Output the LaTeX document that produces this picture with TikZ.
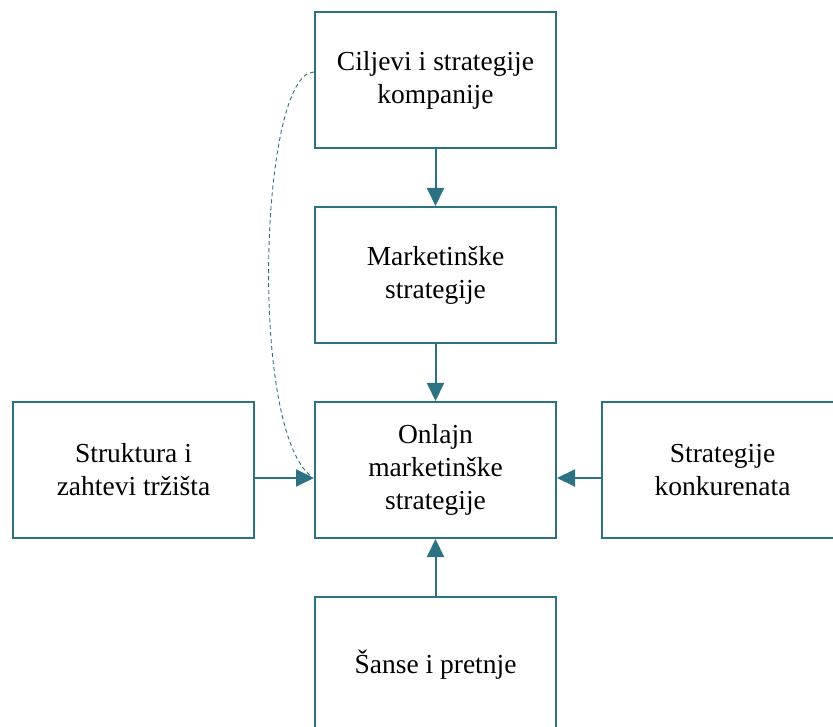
\documentclass[tikz,border=0pt]{standalone}
\usepackage{fontspec}
\setmainfont{Liberation Serif}
\usetikzlibrary{arrows.meta,calc}
\definecolor{teal1}{RGB}{44,114,130}
\begin{document}
\begin{tikzpicture}[x=1pt,y=-1pt,
  box/.style={draw=teal1,line width=2pt,minimum width=241pt,minimum height=136pt,inner sep=0pt,align=center,font=\fontsize{27.5}{33}\selectfont},
  arr/.style={draw=teal1,line width=2pt,-{Triangle[length=18pt,width=17pt]}},
  dsh/.style={draw=teal1,line width=0.9pt,dash pattern=on 4pt off 3pt}]
\useasboundingbox (0,0) rectangle (833,727);
\clip (0,0) rectangle (833,727);
\node[box] (top) at (435.5,80) {Ciljevi i strategije\\kompanije};
\node[box] (mid) at (435.5,275) {Marketinške\\strategije};
\node[box] (ctr) at (435.5,470) {Onlajn\\marketinške\\strategije};
\node[box] (lft) at (133.5,470) {Struktura i\\zahtevi tržišta};
\node[box] (rgt) at (722.5,470) {Strategije\\konkurenata};
\node[box] (bot) at (435.5,665) {Šanse i pretnje};
\draw[arr] (top.south) -- (mid.north);
\draw[arr] (mid.south) -- (ctr.north);
\draw[arr] (bot.north) -- (ctr.south);
\draw[arr] ($(lft.east)+(0,8)$) -- ($(ctr.west)+(0,8)$);
\draw[arr] ($(rgt.west)+(0,8)$) -- ($(ctr.east)+(0,8)$);
\draw[dsh] ($(top.west)+(0,-8)$) .. controls ($(top.west)+(-54,-8)$) and ($(ctr.west)+(-66,-40)$) .. ($(ctr.west)+(-2,7)$);
\end{tikzpicture}
\end{document}
